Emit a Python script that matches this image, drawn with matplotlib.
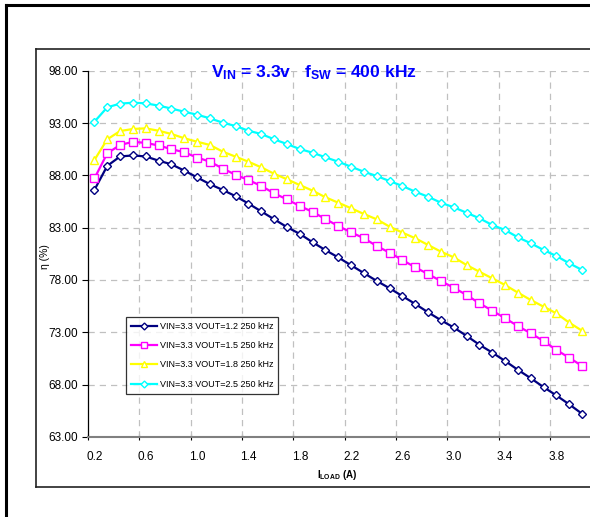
import matplotlib
matplotlib.use("Agg")
import matplotlib.pyplot as plt
from matplotlib.lines import Line2D
import numpy as np

plt.rcParams['font.family'] = ['Liberation Sans', 'DejaVu Sans']
plt.rcParams['mathtext.fontset'] = 'custom'
plt.rcParams['mathtext.rm'] = 'Liberation Sans'
plt.rcParams['mathtext.bf'] = 'Liberation Sans:bold'
plt.rcParams['mathtext.it'] = 'Liberation Sans:italic'

# ---- data ----
iload = [0.2, 0.3, 0.4, 0.5, 0.6, 0.7, 0.8, 0.9, 1.0, 1.1, 1.2, 1.3, 1.4, 1.5, 1.6,
         1.7, 1.8, 1.9, 2.0, 2.1, 2.2, 2.3, 2.4, 2.5, 2.6, 2.7, 2.8, 2.9, 3.0, 3.1,
         3.2, 3.3, 3.4, 3.5, 3.6, 3.7, 3.8, 3.9, 4.0]
eff_12 = [86.6, 88.9, 89.8, 89.9, 89.8, 89.4, 89.05, 88.45, 87.8, 87.15, 86.6, 86.0, 85.3, 84.55, 83.8,
          83.05, 82.4, 81.6, 80.85, 80.15, 79.4, 78.65, 77.9, 77.2, 76.45, 75.7, 74.9, 74.15, 73.45, 72.65,
          71.8, 71.05, 70.25, 69.4, 68.6, 67.75, 66.95, 66.1, 65.2]
eff_15 = [87.7, 90.1, 90.9, 91.2, 91.1, 90.85, 90.5, 90.2, 89.7, 89.3, 88.65, 88.05, 87.55, 86.98, 86.28,
          85.7, 85.07, 84.5, 83.82, 83.15, 82.55, 81.98, 81.24, 80.6, 79.9, 79.2, 78.56, 77.89, 77.25, 76.56,
          75.76, 75.06, 74.33, 73.59, 72.89, 72.16, 71.3, 70.56, 69.77]
eff_18 = [89.46, 91.44, 92.23, 92.43, 92.49, 92.26, 91.95, 91.54, 91.21, 90.9, 90.26, 89.78, 89.3, 88.76, 88.15,
          87.62, 87.07, 86.53, 85.9, 85.38, 84.85, 84.3, 83.79, 83.09, 82.52, 81.98, 81.34, 80.7, 80.16, 79.42,
          78.78, 78.15, 77.51, 76.78, 76.08, 75.44, 74.8, 73.91, 73.14]
eff_25 = [93.12, 94.5, 94.85, 94.94, 94.88, 94.66, 94.38, 94.08, 93.79, 93.45, 93.03, 92.71, 92.26, 91.95, 91.44,
          90.99, 90.51, 90.16, 89.72, 89.3, 88.82, 88.34, 87.93, 87.45, 86.98, 86.43, 85.95, 85.38, 84.94, 84.42,
          83.89, 83.25, 82.77, 82.07, 81.5, 80.86, 80.28, 79.59, 78.95]
series_labels = ["VIN=3.3 VOUT=1.2 250 kHz", "VIN=3.3 VOUT=1.5 250 kHz",
                 "VIN=3.3 VOUT=1.8 250 kHz", "VIN=3.3 VOUT=2.5 250 kHz"]
yticks = [63, 68, 73, 78, 83, 88, 93, 98]

W, H = 590, 517
fig = plt.figure(figsize=(W / 100, H / 100), dpi=100)

def fx(px):
    return px / W

def fy(py):
    return 1 - py / H

# frames
fig.add_artist(Line2D([fx(6), fx(6)], [fy(5), fy(520)], color='black', lw=2.2, transform=fig.transFigure))
fig.add_artist(Line2D([fx(6), fx(592)], [fy(5), fy(5)], color='black', lw=2.2, transform=fig.transFigure))
fig.add_artist(Line2D([fx(36), fx(36)], [fy(48.5), fy(486.7)], color='#222222', lw=1.2, transform=fig.transFigure))
fig.add_artist(Line2D([fx(36), fx(592)], [fy(48.5), fy(48.5)], color='#222222', lw=1.2, transform=fig.transFigure))
fig.add_artist(Line2D([fx(36), fx(592)], [fy(486.7), fy(486.7)], color='#222222', lw=1.2, transform=fig.transFigure))

ax_l, ax_r, ax_t, ax_b = 88, 588.5, 70.7, 436.8
ax = fig.add_axes([fx(ax_l), fy(ax_b), (ax_r - ax_l) / W, (ax_b - ax_t) / H])

xi = np.arange(len(iload))
styles = [
    dict(color='#000080', marker='D', ms=4.2, lms=3.5),
    dict(color='#FF00FF', marker='s', ms=6.3, lms=4.5),
    dict(color='#FFFF00', marker='^', ms=6.3, lms=4.5),
    dict(color='#00FFFF', marker='D', ms=4.2, lms=3.5),
]
for vals, lab, st in zip([eff_12, eff_15, eff_18, eff_25], series_labels, styles):
    ax.plot(xi, vals, color=st['color'], lw=1.6, marker=st['marker'], ms=st['ms'],
            mfc='white', mec=st['color'], mew=1.0, label=lab, zorder=3)

ax.set_xlim(-0.5, len(iload) - 0.5)
ax.set_ylim(63, 98)

# y axis
ax.set_yticks(yticks)
ax.set_yticklabels([f"{v:.2f}" for v in yticks], fontsize=8.5)
ax.tick_params(axis='y', direction='out', length=4, width=0.8, pad=3)
ax.yaxis.grid(True, color='#c0c0c0', lw=0.9, ls=(0, (5, 4)))

# x axis: ticks at category boundaries, labels at categories
bounds = np.arange(-0.5, len(iload) - 0.5, 4)
ax.set_xticks(bounds)
ax.set_xticklabels([])
ax.tick_params(axis='x', which='major', direction='inout', length=5, width=0.8)
ax.set_xticks(xi[::4], minor=True)
ax.set_xticklabels([f"{iload[i]:.1f}" for i in xi[::4]], minor=True, fontsize=8.5)
ax.tick_params(axis='x', which='minor', length=0, pad=10)
for b in bounds[1:]:
    ax.axvline(b, color='#c0c0c0', lw=0.9, ls=(0, (5, 4)), zorder=1)
ax.set_axisbelow(True)

for s in ['top', 'right']:
    ax.spines[s].set_visible(False)
ax.spines['left'].set_color('black')
ax.spines['left'].set_linewidth(0.9)
ax.spines['bottom'].set_color('#808080')
ax.spines['bottom'].set_linewidth(1.5)

# labels
fig.text(fx(45), fy(257), "η (%)", rotation=90, ha='center', va='center', fontsize=7.5)
fig.text(fx(337), fy(475), r"$\mathbf{I_{LOAD}}$ (A)", ha='center', va='center', fontsize=7, fontweight='bold')
fig.text(fx(313.5), fy(73), r"$\mathbf{V_{IN}}$ = 3.3v   $\mathbf{f_{SW}}$ = 400 kHz", ha='center', va='center',
         fontsize=12.6, fontweight='bold', color='#0000FF')

leg = ax.legend(loc='upper left', bbox_to_anchor=((126 - ax_l) / (ax_r - ax_l), (ax_b - 316.7) / (ax_b - ax_t)),
                borderaxespad=0, fontsize=6.5, frameon=True, fancybox=False, handlelength=2.9,
                labelspacing=1.15, handletextpad=0.3, borderpad=0.55)
leg.get_frame().set_edgecolor('black')
leg.get_frame().set_linewidth(0.9)
for h, st in zip(leg.legend_handles, styles):
    h.set_markersize(st['lms'])

fig.savefig("out.png", dpi=100)
